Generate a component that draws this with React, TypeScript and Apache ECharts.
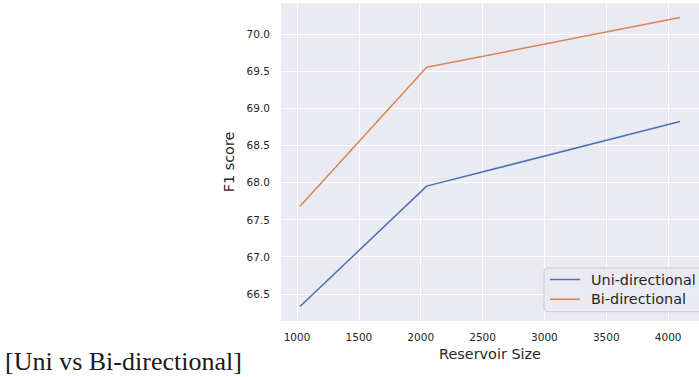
import React, { useEffect, useRef } from "react";
import * as echarts from "echarts";

const reservoirSizes = [1024, 2048, 4096];
const uniF1 = [66.33, 67.95, 68.82];
const biF1 = [67.68, 69.55, 70.22];
const xTicks = [1000, 1500, 2000, 2500, 3000, 3500, 4000];
const yTicks = [66.5, 67.0, 67.5, 68.0, 68.5, 69.0, 69.5, 70.0];
const seriesNames = ["Uni-directional", "Bi-directional"];
const caption = "[Uni vs Bi-directional]";

export default function App() {
  const ref = useRef<HTMLDivElement>(null);
  useEffect(() => {
    const chart = echarts.init(ref.current!, null, { renderer: "svg" });
    const txt = "#262626";
    chart.setOption({
      animation: false,
      backgroundColor: "#ffffff",
      grid: { left: 281, top: 3, width: 428, height: 318, backgroundColor: "#EAEAF2", show: true, borderWidth: 0 },
      xAxis: {
        type: "value",
        min: 870.4,
        max: 4249.6,
        name: "Reservoir Size",
        nameLocation: "middle",
        nameGap: 25,
        nameTextStyle: { fontFamily: "DejaVu Sans", fontSize: 14.4, color: txt },
        axisLine: { show: false },
        axisTick: { show: false, customValues: xTicks },
        axisLabel: {
          customValues: xTicks,
          fontFamily: "DejaVu Sans",
          fontSize: 10.5,
          color: txt,
          margin: 10,
          formatter: (v: number) => String(v),
        },
        splitLine: { show: true, lineStyle: { color: "#ffffff", width: 1 } },
      },
      yAxis: {
        type: "value",
        min: 66.135,
        max: 70.415,
        name: "F1 score",
        nameLocation: "middle",
        nameGap: 40,
        nameTextStyle: { fontFamily: "DejaVu Sans", fontSize: 14.4, color: txt },
        axisLine: { show: false },
        axisTick: { show: false, customValues: yTicks },
        axisLabel: {
          customValues: yTicks,
          fontFamily: "DejaVu Sans",
          fontSize: 10.5,
          color: txt,
          margin: 11,
          formatter: (v: number) => v.toFixed(1),
        },
        splitLine: { show: true, lineStyle: { color: "#ffffff", width: 1 } },
      },
      legend: {
        orient: "vertical",
        left: 544,
        top: 268,
        padding: [4.5, 12, 5.5, 6],
        itemWidth: 30,
        itemHeight: 15,
        itemGap: 5.7,
        backgroundColor: "rgba(234,234,242,0.8)",
        borderColor: "#cccccc",
        borderWidth: 1,
        borderRadius: 3,
        icon: "path://M0,0 L30,0 L30,1.5 L0,1.5 Z",
        textStyle: { fontFamily: "DejaVu Sans", fontSize: 14.4, color: txt, padding: [0, 0, 0, 6] },
        data: seriesNames,
      },
      series: [
        {
          name: seriesNames[0],
          type: "line",
          data: reservoirSizes.map((x, i) => [x, uniF1[i]]),
          showSymbol: false,
          symbol: "none",
          lineStyle: { color: "#4C72B0", width: 1.5 },
          itemStyle: { color: "#4C72B0" },
        },
        {
          name: seriesNames[1],
          type: "line",
          data: reservoirSizes.map((x, i) => [x, biF1[i]]),
          showSymbol: false,
          symbol: "none",
          lineStyle: { color: "#DD8452", width: 1.5 },
          itemStyle: { color: "#DD8452" },
        },
      ],
      graphic: [
        {
          type: "text",
          left: 5,
          top: 348,
          style: { text: caption, fontFamily: "Liberation Serif", fontSize: 26, fill: "#1a1a1a" },
        },
      ],
    });
    return () => chart.dispose();
  }, []);
  return (
    <div style={{ position: "absolute", left: 0, top: 0, width: 699, height: 377, overflow: "hidden", background: "#fff" }}>
      <div ref={ref} style={{ width: 699, height: 377 }} />
    </div>
  );
}
